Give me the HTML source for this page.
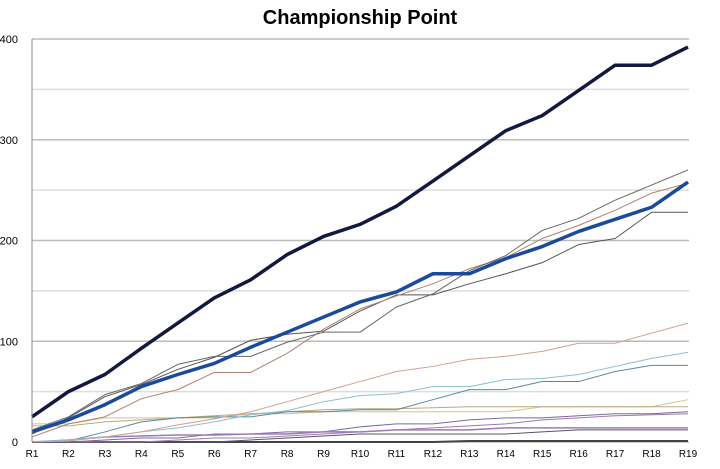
<!DOCTYPE html>
<html><head><meta charset="utf-8"><style>
body{margin:0;background:#fff;}
svg{display:block;font-family:"Liberation Sans",sans-serif;}
</style></head><body>
<svg id="chart" width="720" height="469">
<text x="360" y="24" text-anchor="middle" font-size="20" font-weight="bold">Championship Point</text>
<g id="grid"></g><g id="series"></g><g id="axes"></g>
</svg>
<script>
const rounds=["R1","R2","R3","R4","R5","R6","R7","R8","R9","R10","R11","R12","R13","R14","R15","R16","R17","R18","R19"];
const yTicks=[0,100,200,300,400];
const leader=[25,50,67,93,118,143,161,186,204,216,234,259,284,309,324,349,374,374,392];
const second=[10,22,37,55,67,78,94,109,124,139,149,167,167,182,194,209,221,233,258];
const grayA=[12,25,47,58,77,85,85,99,109,109,134,147,170,185,210,222,240,255,270];
const grayB=[8,24,45,57,72,84,101,107,110,130,146,146,157,167,178,196,202,228,228];
const brownA=[5,18,25,43,52,69,69,88,112,132,145,157,172,183,202,215,230,247,257];
const pinkA=[0,1,5,10,17,23,30,40,50,60,70,75,82,85,90,98,98,108,118];
const lightBlue=[0,2,5,10,14,20,27,31,40,46,48,55,55,62,63,67,75,83,89];
const teal=[0,1,10,20,24,25,25,30,30,32,32,42,52,52,60,60,70,76,76];
const tan=[16,16,20,22,24,26,28,30,32,33,33,34,35,35,35,35,35,35,35];
const tan2=[18,18,24,24,24,24,28,28,30,30,30,30,30,30,35,35,35,35,42];
const purple=[0,2,5,6,7,7,8,8,10,10,12,12,12,14,14,14,14,14,14];
const violet=[0,0,2,4,4,8,8,10,10,15,18,18,22,24,24,26,28,28,30];
const mauve=[0,0,0,0,2,4,4,6,8,10,12,14,16,18,22,24,26,27,28];
const dark=[0,0,0,0,0,0,2,4,6,8,8,8,8,8,10,12,12,12,12];
const bottom=[0,0,0,0,0,0,0,0,0,0,0,0,1,1,1,1,1,1,1];
const ns="http://www.w3.org/2000/svg";
const x0=32,x1=688,y0=442,yScale=403/400;
const xAt=i=>x0+i*(x1-x0)/(rounds.length-1);
const yAt=v=>y0-v*yScale;
const grid=document.getElementById('grid'),axes=document.getElementById('axes'),ser=document.getElementById('series');
for(let v=0;v<=400;v+=50){
 const l=document.createElementNS(ns,'line');
 
 
 l.setAttribute('x1',x0);l.setAttribute('x2',x1+1);l.setAttribute('y1',yAt(v));l.setAttribute('y2',yAt(v));
 l.setAttribute('stroke',v%100===0?'#bbb':'#ddd');l.setAttribute('stroke-width',v%100===0?1.5:1.5);
 grid.appendChild(l);
}
const ya=document.createElementNS(ns,'line');


ya.setAttribute('x1',x0);ya.setAttribute('x2',x0);ya.setAttribute('y1',yAt(400));ya.setAttribute('y2',y0);ya.setAttribute('stroke','#888');
axes.appendChild(ya);
yTicks.forEach(v=>{const t=document.createElementNS(ns,'text');
 
 
 t.setAttribute('x',x0-14);t.setAttribute('y',yAt(v)+4);t.setAttribute('text-anchor','end');t.setAttribute('font-size','11');t.textContent=v;axes.appendChild(t);});
rounds.forEach((r,i)=>{const t=document.createElementNS(ns,'text');
 
 
 t.setAttribute('x',xAt(i));t.setAttribute('y',y0+15);t.setAttribute('text-anchor','middle');t.setAttribute('font-size','10');t.textContent=r;axes.appendChild(t);});
const list=[[bottom,'#444',2,'series-bottom'],[dark,'#556',1,'series-dark'],[mauve,'#a07aa8',1,'series-mauve'],[violet,'#7a6aa0',1,'series-violet'],[purple,'#9a7ab8',1.5,'series-purple'],[tan2,'#d8c08a',1,'series-tan2'],[tan,'#b8aa80',1,'series-tan'],[teal,'#5a8a9a',1,'series-teal'],[lightBlue,'#8ac0d0',1,'series-light-blue'],[pinkA,'#d0a090',1,'series-pink'],[grayB,'#555',1,'series-gray-b'],[brownA,'#b08070',1,'series-brown'],[grayA,'#666',1,'series-gray-a'],[second,'#1a4a9a',3.5,'series-second'],[leader,'#12183e',3.5,'series-leader']];
list.forEach(([d,c,w,n])=>{const p=document.createElementNS(ns,'polyline');
 
 
 p.setAttribute('points',d.map((v,i)=>xAt(i)+','+yAt(v)).join(' '));
 p.setAttribute('fill','none');p.setAttribute('stroke',c);p.setAttribute('stroke-width',w);p.setAttribute('stroke-linejoin','round');ser.appendChild(p);});
</script>
</body></html>
